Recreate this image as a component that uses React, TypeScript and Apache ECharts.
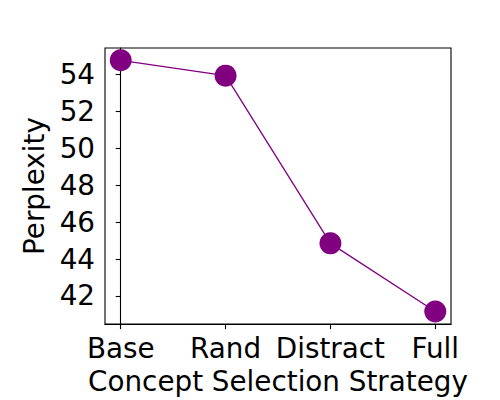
import React, { useEffect, useRef } from "react";
import * as echarts from "echarts";

const categories = ["Base", "Rand", "Distract", "Full"];
const perplexity = [54.78, 53.95, 44.85, 41.15];
const yTicks = [42, 44, 46, 48, 50, 52, 54];
const xTicks = [0, 1, 2, 3];

const FONT = "DejaVu Sans";
const FS = 27.8;

export default function App() {
  const ref = useRef<HTMLDivElement>(null);
  useEffect(() => {
    if (!ref.current) return;
    const chart = echarts.init(ref.current, null, { renderer: "svg" });
    chart.setOption({
      animation: false,
      backgroundColor: "#ffffff",
      textStyle: { fontFamily: FONT },
      grid: {
        left: 105,
        right: 49,
        top: 48,
        bottom: 74,
        show: true,
        borderColor: "#000",
        borderWidth: 1.1,
        backgroundColor: "transparent",
      },
      xAxis: {
        type: "value",
        min: -0.15,
        max: 3.15,
        name: "Concept Selection Strategy",
        nameLocation: "middle",
        nameGap: 42,
        nameTextStyle: { fontFamily: FONT, fontSize: FS, color: "#000" },
        axisLine: { show: true, lineStyle: { color: "#000", width: 1.1 } },
        axisTick: {
          show: true,
          length: 5,
          lineStyle: { color: "#000", width: 1.1 },
          customValues: xTicks,
        },
        axisLabel: {
          fontFamily: FONT,
          fontSize: FS,
          color: "#000",
          margin: 10,
          customValues: xTicks,
          formatter: (v: number) => categories[Math.round(v)] ?? "",
        },
        splitLine: { show: false },
      },
      yAxis: {
        type: "value",
        min: 40.47,
        max: 55.45,
        name: "Perplexity",
        nameLocation: "middle",
        nameGap: 53,
        nameTextStyle: { fontFamily: FONT, fontSize: FS, color: "#000" },
        axisLine: { show: true, lineStyle: { color: "#000", width: 1.1 } },
        axisTick: {
          show: true,
          length: 5,
          lineStyle: { color: "#000", width: 1.1 },
          customValues: yTicks,
        },
        axisLabel: {
          fontFamily: FONT,
          fontSize: FS,
          color: "#000",
          margin: 10,
          customValues: yTicks,
        },
        splitLine: { show: false },
      },
      series: [
        {
          type: "line",
          data: perplexity.map((v, i) => [xTicks[i], v]),
          symbol: "circle",
          symbolSize: 22,
          itemStyle: { color: "#800080" },
          lineStyle: { color: "#800080", width: 1.3 },
        },
      ],
    });
    return () => chart.dispose();
  }, []);
  return (
    <div
      ref={ref}
      style={{ position: "fixed", left: 0, top: 0, width: 500, height: 400, background: "#fff" }}
    />
  );
}
